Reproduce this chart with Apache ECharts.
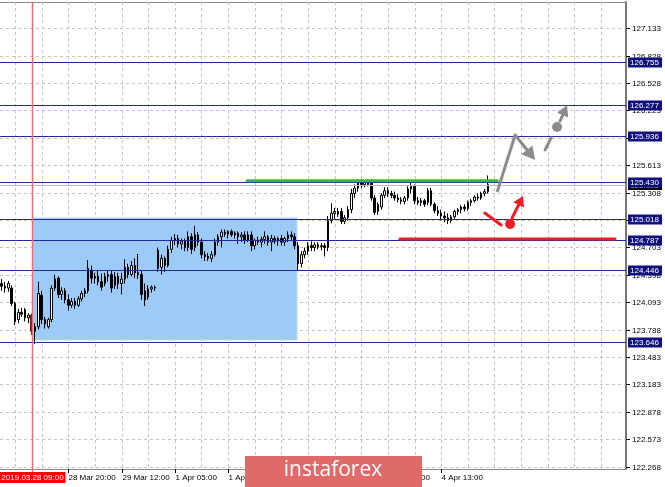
<!DOCTYPE html>
<html>
<head>
<meta charset="utf-8">
<script src="https://cdn.jsdelivr.net/npm/echarts@6/dist/echarts.min.js"></script>
<style>
html,body{margin:0;padding:0;background:#ffffff;}
#chart{width:665px;height:487px;}
</style>
</head>
<body>
<div id="chart"></div>
<script>
// ---------------- data ----------------
const opens = [124.30,124.27,124.25,124.25,124.08,123.90,123.98,124.01,123.92,123.95,
123.77,123.82,124.17,123.90,123.82,123.90,124.25,124.36,124.18,124.22,
124.12,124.06,124.10,124.06,124.13,124.19,124.22,124.45,124.36,124.38,
124.32,124.30,124.38,124.40,124.28,124.38,124.30,124.35,124.48,124.40,
124.50,124.42,124.40,124.22,124.15,124.24,124.26,124.67,124.48,124.58,
124.50,124.68,124.78,124.80,124.74,124.77,124.70,124.82,124.70,124.84,
124.76,124.62,124.60,124.58,124.62,124.76,124.82,124.87,124.85,124.88,
124.84,124.86,124.82,124.84,124.78,124.84,124.72,124.78,124.76,124.79,
124.82,124.76,124.80,124.77,124.80,124.76,124.80,124.84,124.82,124.72,
124.52,124.62,124.66,124.72,124.70,124.73,124.71,124.72,124.70,125.00,
125.08,125.10,125.10,124.99,125.03,125.12,125.30,125.36,125.42,125.40,
125.43,125.43,125.25,125.10,125.15,125.28,125.33,125.30,125.28,125.25,
125.23,125.21,125.25,125.35,125.38,125.22,125.20,125.22,125.20,125.33,
125.18,125.11,125.08,125.05,125.03,125.00,125.04,125.10,125.12,125.15,
125.13,125.20,125.22,125.26,125.25,125.30,125.32];
const highs = [124.35,124.32,124.33,124.28,124.10,124.02,124.03,124.03,123.97,123.97,
123.86,124.32,124.22,123.93,123.92,124.28,124.40,124.38,124.26,124.25,
124.18,124.14,124.14,124.16,124.22,124.25,124.56,124.50,124.42,124.44,
124.41,124.42,124.45,124.44,124.43,124.42,124.42,124.57,124.52,124.55,
124.58,124.63,124.45,124.30,124.28,124.28,124.28,124.70,124.62,124.60,
124.72,124.82,124.85,124.84,124.80,124.80,124.88,124.86,124.94,124.87,
124.80,124.66,124.64,124.66,124.80,124.85,124.90,124.90,124.89,124.90,
124.88,124.88,124.87,124.88,124.88,124.88,124.80,124.82,124.82,124.88,
124.84,124.84,124.83,124.82,124.84,124.82,124.88,124.88,124.86,124.76,
124.66,124.70,124.76,124.77,124.76,124.76,124.75,124.75,125.05,125.19,
125.14,125.14,125.14,125.06,125.16,125.35,125.40,125.46,125.46,125.45,
125.46,125.46,125.28,125.20,125.30,125.37,125.37,125.33,125.32,125.29,
125.26,125.27,125.38,125.43,125.40,125.26,125.25,125.24,125.36,125.36,
125.20,125.16,125.12,125.10,125.08,125.06,125.12,125.14,125.17,125.18,
125.22,125.24,125.28,125.30,125.32,125.35,125.50];
const lows = [124.22,124.20,124.21,124.05,123.84,123.86,123.93,123.88,123.86,123.73,
123.63,123.79,123.85,123.80,123.80,123.87,124.22,124.14,124.12,124.08,
124.00,124.03,124.02,124.04,124.10,124.15,124.19,124.30,124.30,124.28,
124.22,124.27,124.32,124.20,124.24,124.24,124.18,124.30,124.36,124.38,
124.36,124.35,124.12,124.05,124.12,124.20,124.22,124.43,124.40,124.43,
124.48,124.64,124.73,124.70,124.68,124.66,124.66,124.63,124.66,124.72,
124.58,124.55,124.55,124.54,124.60,124.72,124.70,124.82,124.80,124.82,
124.80,124.74,124.76,124.74,124.76,124.66,124.68,124.73,124.70,124.74,
124.72,124.66,124.74,124.72,124.72,124.72,124.76,124.78,124.68,124.45,
124.48,124.58,124.62,124.66,124.66,124.68,124.67,124.60,124.66,124.97,
125.02,125.04,124.96,124.96,125.00,125.08,125.25,125.32,125.36,125.37,
125.38,125.22,125.06,125.06,125.12,125.25,125.26,125.25,125.22,125.20,
125.18,125.18,125.22,125.30,125.18,125.17,125.16,125.15,125.17,125.16,
125.08,125.05,125.00,124.98,124.96,124.97,125.02,125.06,125.08,125.10,
125.11,125.16,125.20,125.22,125.23,125.27,125.30];
const closes = [124.27,124.25,124.30,124.08,123.88,123.98,123.96,123.92,123.95,123.77,
123.82,124.19,123.90,123.85,123.90,124.25,124.35,124.18,124.22,124.12,
124.06,124.10,124.06,124.13,124.19,124.22,124.47,124.36,124.38,124.32,
124.26,124.38,124.40,124.25,124.38,124.30,124.35,124.48,124.40,124.50,
124.42,124.40,124.18,124.12,124.24,124.26,124.25,124.47,124.58,124.50,
124.68,124.78,124.80,124.74,124.77,124.70,124.82,124.68,124.84,124.76,
124.62,124.60,124.58,124.62,124.76,124.82,124.87,124.85,124.88,124.84,
124.86,124.82,124.84,124.78,124.84,124.72,124.78,124.76,124.79,124.82,
124.76,124.80,124.77,124.80,124.76,124.80,124.84,124.82,124.72,124.52,
124.62,124.66,124.72,124.70,124.73,124.71,124.72,124.70,125.00,125.08,
125.10,125.07,124.99,125.03,125.12,125.30,125.36,125.42,125.40,125.43,
125.40,125.25,125.09,125.18,125.28,125.33,125.30,125.28,125.25,125.23,
125.21,125.25,125.35,125.38,125.22,125.20,125.22,125.18,125.33,125.18,
125.11,125.08,125.05,125.03,125.00,125.04,125.10,125.12,125.15,125.13,
125.20,125.22,125.26,125.25,125.30,125.32,125.40];

const cursorBar = 9;
const cursorLabel = '2019.03.28 09:00';
const yTickValues = [127.133,126.828,126.528,126.223,125.918,125.613,125.308,125.003,124.703,124.398,124.093,123.788,123.483,123.183,122.878,122.573,122.268];
const gridBars = [4,12,20,28,36,44,52,60,68,76,84,92,100,108,116,124,132,140,148,156,164,172,180];
const xTickBars = [20,36,52,68,84,100,116,132];
const xTickLabels = ['28 Mar 20:00','29 Mar 12:00','1 Apr 05:00','1 Apr 21:00','2 Apr 13:00','3 Apr 05:00','3 Apr 21:00','4 Apr 13:00'];
const levelValues = [126.755,126.277,125.936,125.430,125.018,124.787,124.446,123.646];
const bidValue = 125.398;
const zoneBars = [9.4, 88.7];
const zonePrices = [125.028, 123.674];
const greenBars = [73.7, 148.8];
const greenPrice = 125.44;
const redBars = [119.6, 184.2];
const redPrice = 124.795;
const grayPath1 = [[148.8,125.317],[154.2,125.949],[160.2,125.672]];
const grayPath2 = [[163.2,125.783],[165.0,125.916]];
const grayDot = [166.8,126.038];
const grayArrow = [[167.7,126.104],[169.8,126.282]];
const redPath = [[145.1,125.083],[150.0,124.950]];
const redDot = [152.7,124.961];
const redArrow = [[153.3,125.028],[156.6,125.272]];

// ---------------- chart ----------------
const SLOTS = 188;
const Y_MIN = 122.242, Y_MAX = 127.425;
const FONT = '8px "Liberation Sans", Arial, sans-serif';
const slotNames = Array.from({length: SLOTS}, (_, i) => String(i));

const candleData = opens.map((o, i) => {
  const item = {value: [o, closes[i], lows[i], highs[i]]};
  if (i === cursorBar) item.itemStyle = {color0: '#8b1010', borderColor0: '#8b1010', borderColor: '#8b1010'};
  return item;
});

function seg(a, b, color, w) {
  return {type: 'line', shape: {x1: a[0], y1: a[1], x2: b[0], y2: b[1]}, style: {stroke: color, lineWidth: w, lineCap: 'round'}};
}
function arrow(a, b, color, w, headL, headW) {
  const dx = b[0] - a[0], dy = b[1] - a[1], len = Math.hypot(dx, dy);
  const ux = dx / len, uy = dy / len;
  const bx = b[0] - ux * headL, by = b[1] - uy * headL;
  return [
    seg(a, [bx, by], color, w),
    {type: 'polygon', shape: {points: [[b[0], b[1]], [bx - uy * headW, by + ux * headW], [bx + uy * headW, by - ux * headW]]}, style: {fill: color}}
  ];
}

const chart = echarts.init(document.getElementById('chart'), null, {renderer: 'canvas'});
chart.setOption({
  animation: false,
  backgroundColor: '#ffffff',
  grid: {left: 0, right: 39, top: 2, bottom: 18, show: false},
  xAxis: [
    {type: 'category', data: slotNames, boundaryGap: true,
     axisLine: {show: true, onZero: false, lineStyle: {color: '#8c8c8c'}}, axisTick: {show: false}, axisLabel: {show: false}, splitLine: {show: false}},
    {type: 'value', min: -0.5, max: SLOTS - 0.5, show: false}
  ],
  yAxis: {type: 'value', position: 'right', min: Y_MIN, max: Y_MAX, scale: true,
    axisLine: {show: true, onZero: false, lineStyle: {color: '#777777', width: 2}}, axisTick: {show: false}, axisLabel: {show: false}, splitLine: {show: false}},
  series: [
    { // horizontal grid + y labels + top frame line
      type: 'custom', xAxisIndex: 1, z: 1, silent: true, clip: false,
      data: yTickValues.map(v => [0, v]),
      renderItem(params, api) {
        const cs = params.coordSys;
        const y = Math.round(api.coord([0, api.value(1)])[1]) + 0.5;
        const right = cs.x + cs.width;
        const children = [
          {type: 'line', shape: {x1: cs.x, y1: y, x2: right, y2: y}, style: {stroke: '#c4c4c4', lineWidth: 1, lineDash: [3, 3]}},
          {type: 'line', shape: {x1: right, y1: y, x2: right + 4, y2: y}, style: {stroke: '#000', lineWidth: 1}},
          {type: 'text', x: right + 6, y: y, style: {text: yTickValues[params.dataIndex].toFixed(3), fill: '#000', font: FONT, align: 'left', verticalAlign: 'middle'}}
        ];
        if (params.dataIndex === 0) {
          children.push({type: 'line', shape: {x1: cs.x, y1: cs.y + 0.5, x2: right, y2: cs.y + 0.5}, style: {stroke: '#8c8c8c', lineWidth: 1}});
        }
        return {type: 'group', children};
      }
    },
    { // vertical grid
      type: 'custom', xAxisIndex: 1, z: 1, silent: true, clip: false,
      data: gridBars.map(b => [b, Y_MIN]),
      renderItem(params, api) {
        const cs = params.coordSys;
        const x = Math.round(api.coord([api.value(0), Y_MIN])[0]) + 0.5;
        return {type: 'line', shape: {x1: x, y1: cs.y, x2: x, y2: cs.y + cs.height}, style: {stroke: '#c4c4c4', lineWidth: 1, lineDash: [3, 3]}};
      }
    },
    { // x labels
      type: 'custom', xAxisIndex: 1, z: 1, silent: true, clip: false,
      data: xTickBars.map(b => [b, Y_MIN]),
      renderItem(params, api) {
        const cs = params.coordSys;
        const x = Math.round(api.coord([api.value(0), Y_MIN])[0]) + 0.5;
        const yb = cs.y + cs.height;
        return {type: 'group', children: [
          {type: 'line', shape: {x1: x, y1: yb, x2: x, y2: yb + 4}, style: {stroke: '#000', lineWidth: 1}},
          {type: 'text', x: x, y: yb + 9, style: {text: xTickLabels[params.dataIndex], fill: '#000', font: FONT, align: 'left', verticalAlign: 'middle'}}
        ]};
      }
    },
    { // blue zone
      type: 'custom', xAxisIndex: 1, z: 2, silent: true,
      data: [[zoneBars[0], zonePrices[0]]],
      renderItem(params, api) {
        const a = api.coord([zoneBars[0], zonePrices[0]]);
        const b = api.coord([zoneBars[1], zonePrices[1]]);
        return {type: 'rect', shape: {x: a[0], y: a[1], width: b[0] - a[0], height: b[1] - a[1]}, style: {fill: '#9dcbf8', stroke: '#b8d8fa', lineWidth: 1}};
      }
    },
    {
      type: 'candlestick', xAxisIndex: 0, yAxisIndex: 0, z: 3, barWidth: 2,
      data: candleData,
      itemStyle: {color: '#ffffff', color0: '#000000', borderColor: '#000000', borderColor0: '#000000', borderWidth: 1},
      emphasis: {disabled: true}
    },
    { // bid line
      type: 'custom', xAxisIndex: 1, z: 4, silent: true, clip: false,
      data: [[0, bidValue]],
      renderItem(params, api) {
        const cs = params.coordSys;
        const y = Math.round(api.coord([0, bidValue])[1]) + 0.5;
        const right = cs.x + cs.width;
        return {type: 'group', children: [
          {type: 'line', shape: {x1: cs.x, y1: y, x2: right, y2: y}, style: {stroke: '#bdbdbd', lineWidth: 1}},
          {type: 'rect', shape: {x: right + 2, y: y - 4.5, width: 34, height: 9}, style: {fill: '#000'}},
          {type: 'text', x: right + 4, y: y, style: {text: bidValue.toFixed(3), fill: '#fff', font: FONT, align: 'left', verticalAlign: 'middle'}}
        ]};
      }
    },
    { // level lines
      type: 'custom', xAxisIndex: 1, z: 5, silent: true, clip: false,
      data: levelValues.map(v => [0, v]),
      renderItem(params, api) {
        const cs = params.coordSys;
        const v = levelValues[params.dataIndex];
        const y = Math.round(api.coord([0, v])[1]) + 0.5;
        const right = cs.x + cs.width;
        return {type: 'group', children: [
          {type: 'line', shape: {x1: cs.x, y1: y, x2: right, y2: y}, style: {stroke: '#2626a0', lineWidth: 1}},
          {type: 'rect', shape: {x: right + 2, y: y - 5, width: 34, height: 10}, style: {fill: '#10107e'}},
          {type: 'text', x: right + 4, y: y, style: {text: v.toFixed(3), fill: '#ffffff', font: FONT, align: 'left', verticalAlign: 'middle'}}
        ]};
      }
    },
    { // annotations
      type: 'custom', xAxisIndex: 1, z: 6, silent: true, clip: false,
      data: [[greenBars[0], greenPrice]],
      renderItem(params, api) {
        const c = p => api.coord(p);
        const gray = '#8c8c8c', red = '#ee1c25', green = '#3cb44b';
        let ch = [];
        ch.push(seg(c([greenBars[0], greenPrice]), c([greenBars[1], greenPrice]), green, 3));
        ch.push(seg(c([redBars[0], redPrice]), c([redBars[1], redPrice]), red, 3));
        ch.push({type: 'polyline', shape: {points: [c(grayPath1[0]), c(grayPath1[1])]}, style: {stroke: gray, lineWidth: 3, lineJoin: 'round', fill: null}});
        ch = ch.concat(arrow(c(grayPath1[1]), c(grayPath1[2]), gray, 3, 13, 7));
        ch.push(seg(c(grayPath2[0]), c(grayPath2[1]), gray, 3));
        const gd = c(grayDot);
        ch.push({type: 'circle', shape: {cx: gd[0], cy: gd[1], r: 5}, style: {fill: gray}});
        ch = ch.concat(arrow(c(grayArrow[0]), c(grayArrow[1]), gray, 3, 11, 6));
        ch.push(seg(c(redPath[0]), c(redPath[1]), red, 3));
        const rd = c(redDot);
        ch.push({type: 'circle', shape: {cx: rd[0], cy: rd[1], r: 5}, style: {fill: red}});
        ch = ch.concat(arrow(c(redArrow[0]), c(redArrow[1]), red, 3, 10, 6));
        return {type: 'group', children: ch};
      }
    },
    { // cursor
      type: 'custom', xAxisIndex: 1, z: 7, silent: true, clip: false,
      data: [[cursorBar, Y_MIN]],
      renderItem(params, api) {
        const cs = params.coordSys;
        const x = Math.round(api.coord([cursorBar, Y_MIN])[0]) + 0.5;
        const yb = cs.y + cs.height;
        return {type: 'group', children: [
          {type: 'line', shape: {x1: x, y1: cs.y, x2: x, y2: yb + 3}, style: {stroke: '#ff6464', lineWidth: 1.5}},
          {type: 'rect', shape: {x: x - 33, y: yb + 3, width: 66, height: 11}, style: {fill: '#ff0000'}},
          {type: 'text', x: x, y: yb + 8.5, style: {text: cursorLabel, fill: '#ffffff', font: FONT, align: 'center', verticalAlign: 'middle'}}
        ]};
      }
    }
  ],
  graphic: [
    {type: 'rect', x: 245, y: 456, shape: {width: 177, height: 31}, style: {fill: '#e06a6a'}, z: 100},
    {type: 'text', x: 333, y: 470, style: {text: 'instaforex', fill: '#ffffff', font: '21px "Open Sans", "Liberation Sans", sans-serif', align: 'center', verticalAlign: 'middle'}, z: 101}
  ]
});
</script>
</body>
</html>
